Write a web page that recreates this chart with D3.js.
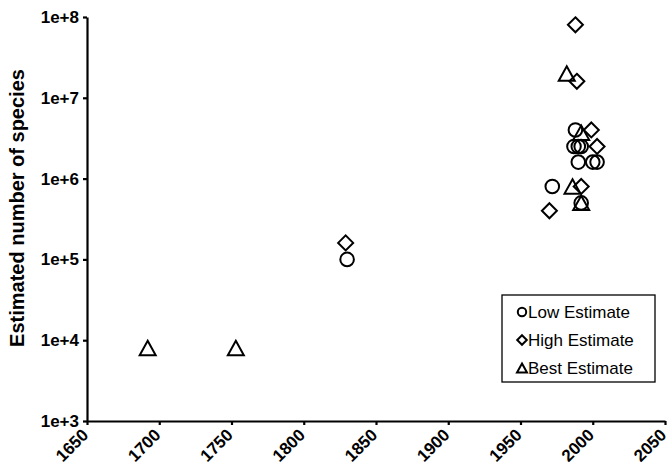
<!DOCTYPE html>
<html>
<head>
<meta charset="utf-8">
<script src="https://cdn.jsdelivr.net/npm/d3@7"></script>
<style>
  body { margin: 0; background: #fff; }
  svg { font-family: "Liberation Sans", Arial, sans-serif; }
</style>
</head>
<body>
<script>
var width = 669;
var height = 469;

// low estimates (circles)
var lowYears  = [1830, 1972, 1988, 1987, 1990, 1992, 1990, 2000, 2003, 1992];
var lowValues = [1e5, 8e5, 4e6, 2.5e6, 2.5e6, 2.5e6, 1.6e6, 1.6e6, 1.6e6, 5e5];

// high estimates (diamonds)
var highYears  = [1829, 1970, 1988, 1989, 1999, 2003, 1992];
var highValues = [1.6e5, 4e5, 8e7, 1.6e7, 4e6, 2.5e6, 8e5];

// best estimates (triangles)
var bestYears  = [1692, 1753, 1982, 1992, 1986, 1992];
var bestValues = [8e3, 8e3, 2e7, 3.7e6, 8e5, 5e5];

var xTicks = [1650, 1700, 1750, 1800, 1850, 1900, 1950, 2000, 2050];
var yTicks = [1e3, 1e4, 1e5, 1e6, 1e7, 1e8];
var legendLabels = ["Low Estimate", "High Estimate", "Best Estimate"];

var x = d3.scaleLinear().domain([1650, 2050]).range([87, 665]);
var y = d3.scaleLog().domain([1e3, 1e8]).range([421, 17]);

var svg = d3.select("body").append("svg")
    .attr("width", width)
    .attr("height", height);

// marker shapes, centred on their bounding box
function markerPath(kind, s) {
    if (kind === "circle") {
        var p = d3.path();
        p.arc(0, 0, s, 0, 2 * Math.PI);
        p.closePath();
        return p.toString();
    }
    if (kind === "diamond") {
        return `M0,${-s}L${s},0L0,${s}L${-s},0Z`;
    }
    // triangle
    var h = s * 0.9;
    return `M0,${-h}L${s},${h}L${-s},${h}Z`;
}

// axes
var yAxis = d3.axisLeft(y)
    .tickValues(yTicks)
    .tickFormat((d) => "1e+" + Math.round(Math.log10(d)))
    .tickSize(4)
    .tickSizeOuter(0)
    .tickPadding(4);

var xAxis = d3.axisBottom(x)
    .tickValues(xTicks)
    .tickFormat(d3.format("d"))
    .tickSize(4)
    .tickSizeOuter(0);

var gy = svg.append("g")
    .attr("transform", "translate(87,0)")
    .call(yAxis);

var gx = svg.append("g")
    .attr("transform", "translate(0,421)")
    .call(xAxis);

[gx, gy].forEach((g) => {
    g.select(".domain").attr("stroke", "#000").attr("stroke-width", 2.2);
    g.selectAll(".tick line").attr("stroke", "#000").attr("stroke-width", 2.2);
    g.selectAll(".tick text")
        .attr("fill", "#000")
        .style("font-size", "17px")
        .style("font-weight", "bold")
        .style("font-family", "'Liberation Sans', Arial, sans-serif");
});

gx.selectAll(".tick text")
    .attr("text-anchor", "end")
    .attr("dy", null)
    .attr("y", 0)
    .attr("transform", "translate(2,15) rotate(-45)");

svg.append("text")
    .attr("transform", "translate(24,208) rotate(-90)")
    .attr("text-anchor", "middle")
    .style("font-size", "20px")
    .style("font-weight", "bold")
    .text("Estimated number of species");

// points
var series = [
    { kind: "circle",   size: 6.8, years: lowYears,  values: lowValues },
    { kind: "diamond",  size: 7.5, years: highYears, values: highValues },
    { kind: "triangle", size: 8,   years: bestYears, values: bestValues }
];

series.forEach((s) => {
    svg.append("g").selectAll("path")
        .data(s.years.map((yr, i) => ({ year: yr, value: s.values[i] })))
        .enter().append("path")
        .attr("transform", (d) => `translate(${x(d.year)},${y(d.value)})`)
        .attr("d", markerPath(s.kind, s.size))
        .attr("fill", "none")
        .attr("stroke", "#000")
        .attr("stroke-width", 2);
});

// legend
var legend = svg.append("g").attr("transform", "translate(502,295)");
legend.append("rect")
    .attr("width", 153)
    .attr("height", 87)
    .attr("fill", "#fff")
    .attr("stroke", "#000")
    .attr("stroke-width", 1.3);

var legendKinds = [
    { kind: "circle", size: 4.2 },
    { kind: "diamond", size: 4.8 },
    { kind: "triangle", size: 5 }
];

legend.selectAll("g.item")
    .data(legendLabels)
    .enter().append("g")
    .attr("class", "item")
    .attr("transform", (d, i) => `translate(0,${17 + i * 28})`)
    .each(function(d, i) {
        var g = d3.select(this);
        g.append("path")
            .attr("transform", "translate(20,0)")
            .attr("d", markerPath(legendKinds[i].kind, legendKinds[i].size))
            .attr("fill", "none")
            .attr("stroke", "#000")
            .attr("stroke-width", 2);
        g.append("text")
            .attr("x", 26)
            .attr("y", 6)
            .style("font-size", "17px")
            .text(d);
    });
</script>
</body>
</html>
